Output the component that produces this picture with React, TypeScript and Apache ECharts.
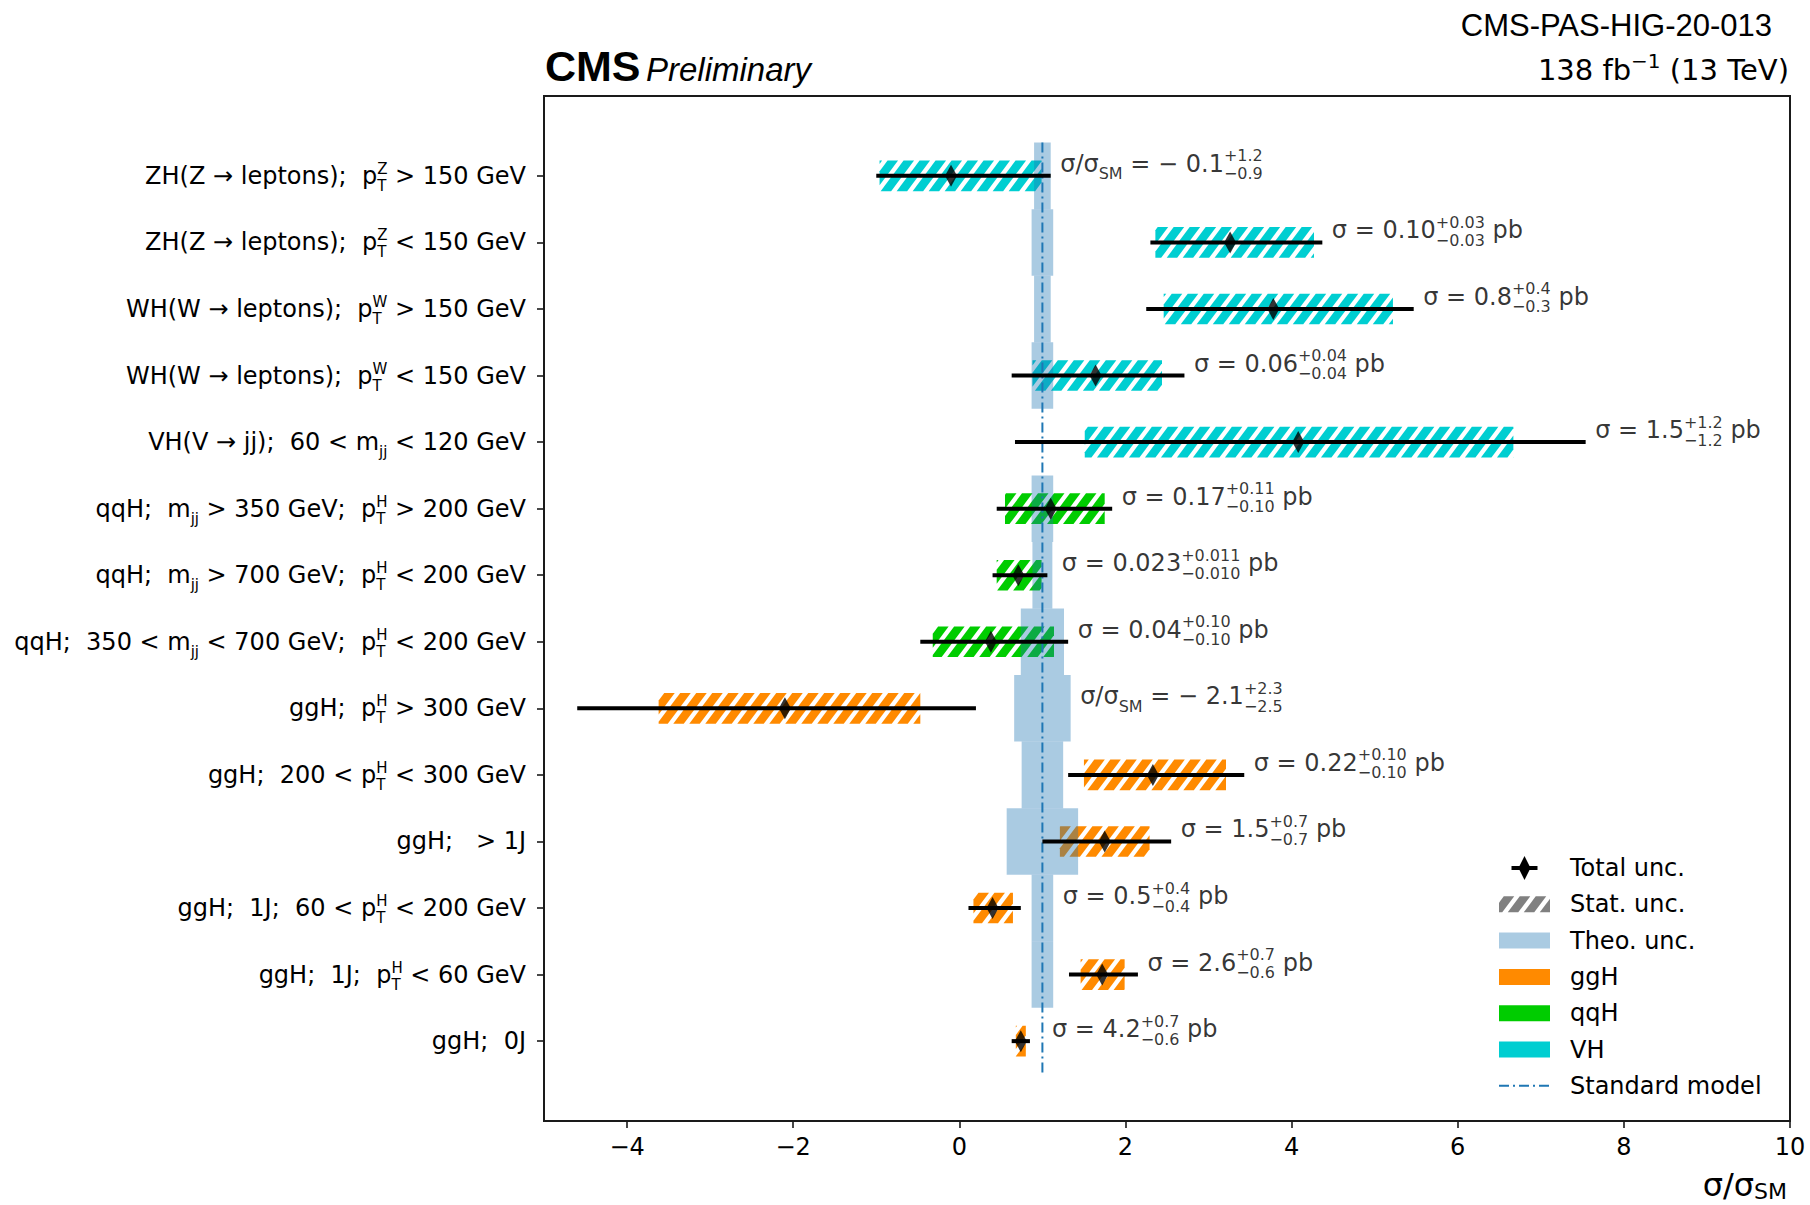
import React, { useEffect, useRef } from 'react';
import * as echarts from 'echarts';

// ---------------------------------------------------------------------------
// Data: one row per STXS bin, top to bottom
// ---------------------------------------------------------------------------
const categories = [
  'ZH(Z → leptons);  p_{T}^{Z} > 150 GeV',
  'ZH(Z → leptons);  p_{T}^{Z} < 150 GeV',
  'WH(W → leptons);  p_{T}^{W} > 150 GeV',
  'WH(W → leptons);  p_{T}^{W} < 150 GeV',
  'VH(V → jj);  60 < m_{jj} < 120 GeV',
  'qqH;  m_{jj} > 350 GeV;  p_{T}^{H} > 200 GeV',
  'qqH;  m_{jj} > 700 GeV;  p_{T}^{H} < 200 GeV',
  'qqH;  350 < m_{jj} < 700 GeV;  p_{T}^{H} < 200 GeV',
  'ggH;  p_{T}^{H} > 300 GeV',
  'ggH;  200 < p_{T}^{H} < 300 GeV',
  'ggH;   > 1J',
  'ggH;  1J;  60 < p_{T}^{H} < 200 GeV',
  'ggH;  1J;  p_{T}^{H} < 60 GeV',
  'ggH;  0J',
];

const rowMode = ['VH', 'VH', 'VH', 'VH', 'VH', 'qqH', 'qqH', 'qqH', 'ggH', 'ggH', 'ggH', 'ggH', 'ggH', 'ggH'];

// best-fit signal strength sigma/sigma_SM
const muValues = [-0.1, 3.26, 3.78, 1.64, 4.08, 1.1, 0.71, 0.38, -2.1, 2.33, 1.75, 0.4, 1.72, 0.74];
// total uncertainty interval
const totalLow = [-1.0, 2.3, 2.25, 0.63, 0.67, 0.45, 0.4, -0.47, -4.6, 1.31, 1.0, 0.11, 1.32, 0.63];
const totalHigh = [1.1, 4.37, 5.47, 2.71, 7.54, 1.84, 1.06, 1.31, 0.2, 3.43, 2.55, 0.74, 2.15, 0.85];
// statistical uncertainty interval
const statLow = [-0.96, 2.36, 2.46, 0.88, 1.51, 0.55, 0.45, -0.32, -3.62, 1.5, 1.21, 0.17, 1.46, 0.68];
const statHigh = [0.99, 4.27, 5.22, 2.44, 6.67, 1.75, 0.99, 1.14, -0.47, 3.21, 2.29, 0.645, 1.99, 0.8];
// half width of the theory band around the SM expectation
const theoHalfWidth = [0.1, 0.13, 0.1, 0.13, 0, 0.13, 0.12, 0.26, 0.34, 0.25, 0.43, 0.13, 0.13, 0];

// measured cross sections in pb (null: quoted as sigma/sigma_SM)
const xsecCentral = [null, '0.10', '0.8', '0.06', '1.5', '0.17', '0.023', '0.04', null, '0.22', '1.5', '0.5', '2.6', '4.2'];
const xsecUp = [null, '0.03', '0.4', '0.04', '1.2', '0.11', '0.011', '0.10', null, '0.10', '0.7', '0.4', '0.7', '0.7'];
const xsecDown = [null, '0.03', '0.3', '0.04', '1.2', '0.10', '0.010', '0.10', null, '0.10', '0.7', '0.4', '0.6', '0.6'];

const productionModes = ['ggH', 'qqH', 'VH'];
const modeColors = ['#ff8a00', '#00cc00', '#00ced1'];
const smValue = 1;
const xTicks = [-4, -2, 0, 2, 4, 6, 8, 10];
const legendLabels = ['Total unc.', 'Stat. unc.', 'Theo. unc.', 'ggH', 'qqH', 'VH', 'Standard model'];

// ---------------------------------------------------------------------------
// Layout and style
// ---------------------------------------------------------------------------
const W = 1810;
const H = 1205;
const FONT = 'DejaVu Sans';
const AXIS_COLOR = '#1a1a1a';
const THEO_FILL = 'rgba(31,119,180,0.38)';
const SM_COLOR = '#1f77b4';
const SM_DASH = [10, 4, 2, 4];
const BOX_HALF = 0.23; // half height of a stat box, in row units
const HATCH_PERIOD = 16;
const HATCH_GAP = 5.5;
const HATCH_SLANT = 0.75;

const rows = categories.map((_, i) => i);

// Sutherland-Hodgman clip of a polygon against g(p) >= 0
function clipHalf(poly: number[][], g: (p: number[]) => number): number[][] {
  const out: number[][] = [];
  for (let i = 0; i < poly.length; i++) {
    const a = poly[i];
    const b = poly[(i + 1) % poly.length];
    const ga = g(a);
    const gb = g(b);
    if (ga >= 0) out.push(a);
    if ((ga >= 0) !== (gb >= 0)) {
      const t = ga / (ga - gb);
      out.push([a[0] + t * (b[0] - a[0]), a[1] + t * (b[1] - a[1])]);
    }
  }
  return out;
}

// "///" hatch stripes filling a pixel rectangle
function hatchPolygons(x0: number, y0: number, x1: number, y1: number): number[][][] {
  const rect = [[x0, y0], [x1, y0], [x1, y1], [x0, y1]];
  const f = (p: number[]) => p[0] + HATCH_SLANT * p[1];
  const vals = rect.map(f);
  const fmin = Math.min(...vals);
  const fmax = Math.max(...vals);
  const out: number[][][] = [];
  for (let k = Math.floor(fmin / HATCH_PERIOD); k * HATCH_PERIOD <= fmax; k++) {
    const c1 = k * HATCH_PERIOD;
    const c2 = c1 + HATCH_PERIOD - HATCH_GAP;
    let poly = clipHalf(rect, (p) => f(p) - c1);
    if (poly.length < 3) continue;
    poly = clipHalf(poly, (p) => c2 - f(p));
    if (poly.length >= 3) out.push(poly);
  }
  return out;
}

let measureCtx: CanvasRenderingContext2D | null = null;
function textWidth(s: string): number {
  if (!measureCtx) measureCtx = document.createElement('canvas').getContext('2d');
  if (!measureCtx) return s.length;
  measureCtx.font = `20px "${FONT}"`;
  return measureCtx.measureText(s).width;
}

// stacked scripts: the narrower one gets zero advance so both share one column
function stacked(sup: string, sub: string): string {
  return textWidth(sup) >= textWidth(sub) ? `{sub0|${sub}}{sup|${sup}}` : `{sup0|${sup}}{sub|${sub}}`;
}

// tiny markup: _{a}^{b} / ^{a}_{b} stacked scripts, _{a} subscript, ^{a} superscript
function toRich(src: string): string {
  const re = /_\{([^}]*)\}\^\{([^}]*)\}|\^\{([^}]*)\}_\{([^}]*)\}|_\{([^}]*)\}|\^\{([^}]*)\}/g;
  let out = '';
  let last = 0;
  let m: RegExpExecArray | null;
  while ((m = re.exec(src))) {
    if (m.index > last) out += `{t|${src.slice(last, m.index)}}`;
    if (m[1] !== undefined) out += stacked(m[2], m[1]);
    else if (m[3] !== undefined) out += stacked(m[3], m[4]);
    else if (m[5] !== undefined) out += `{sub|${m[5]}}`;
    else out += `{sup|${m[6]}}`;
    last = re.lastIndex;
  }
  if (last < src.length) out += `{t|${src.slice(last)}}`;
  return out;
}

function richStyles(size: number, scriptSize: number, rise: number, drop: number, family = FONT) {
  const base = { fontFamily: family, color: '#000', fill: '#000', align: 'left' };
  const up = { ...base, fontSize: scriptSize, padding: [0, 0, 2 * rise, 0] };
  const down = { ...base, fontSize: scriptSize, padding: [2 * drop, 0, 0, 0] };
  return {
    t: { ...base, fontSize: size },
    sup: up,
    sup0: { ...up, width: 0 },
    sub: down,
    sub0: { ...down, width: 0 },
  };
}

function fmtSigned(v: number): string {
  return v < 0 ? `− ${Math.abs(v).toFixed(1)}` : v.toFixed(1);
}

const annotations = rows.map((i) => {
  const mu = muValues[i];
  if (xsecCentral[i] == null) {
    const up = (totalHigh[i] - mu).toFixed(1);
    const dn = (mu - totalLow[i]).toFixed(1);
    return `σ/σ_{SM} = ${fmtSigned(mu)}^{+${up}}_{−${dn}}`;
  }
  return `σ = ${xsecCentral[i]}^{+${xsecUp[i]}}_{−${xsecDown[i]}} pb`;
});

function buildLegend(): any[] {
  const top = 868;
  const step = 36.3;
  const iconL = 1499;
  const iconR = 1550;
  const textX = 1570;
  const els: any[] = [];
  legendLabels.forEach((label, k) => {
    const cy = top + k * step;
    if (label === 'Total unc.') {
      const cx = (iconL + iconR) / 2;
      els.push({ type: 'line', shape: { x1: cx - 13, y1: cy, x2: cx + 13, y2: cy }, style: { stroke: '#000', lineWidth: 4 } });
      els.push({
        type: 'polygon',
        shape: { points: [[cx, cy - 12], [cx + 6, cy], [cx, cy + 12], [cx - 6, cy]] },
        style: { fill: '#000' },
      });
    } else if (label === 'Stat. unc.') {
      hatchPolygons(iconL, cy - 8, iconR, cy + 8).forEach((pts) =>
        els.push({ type: 'polygon', shape: { points: pts }, style: { fill: '#808080' } })
      );
    } else if (label === 'Theo. unc.') {
      els.push({ type: 'rect', shape: { x: iconL, y: cy - 8, width: iconR - iconL, height: 16 }, style: { fill: THEO_FILL } });
    } else if (label === 'Standard model') {
      els.push({
        type: 'line',
        shape: { x1: iconL, y1: cy, x2: iconR, y2: cy },
        style: { stroke: SM_COLOR, lineWidth: 2, lineDash: SM_DASH },
      });
    } else {
      const color = modeColors[productionModes.indexOf(label)];
      els.push({ type: 'rect', shape: { x: iconL, y: cy - 8, width: iconR - iconL, height: 16 }, style: { fill: color } });
    }
    els.push({
      type: 'text',
      x: textX,
      y: cy,
      style: {
        text: label,
        fontFamily: FONT,
        fontSize: 24,
        fill: '#000',
        align: 'left',
        verticalAlign: 'middle',
        textAlign: 'left',
        textVerticalAlign: 'middle',
      },
    });
  });
  return els;
}

function buildOption(): any {
  const axisLine = { color: AXIS_COLOR, width: 2 };
  const tickLine = { color: AXIS_COLOR, width: 1.6 };
  return {
    animation: false,
    backgroundColor: '#ffffff',
    textStyle: { fontFamily: FONT },
    grid: {
      left: 544,
      top: 96,
      right: 20,
      bottom: 84,
      show: true,
      borderColor: AXIS_COLOR,
      borderWidth: 2,
      backgroundColor: 'transparent',
    },
    xAxis: {
      type: 'value',
      min: -5,
      max: 10,
      axisLine: { show: true, onZero: false, lineStyle: axisLine },
      axisTick: { show: true, customValues: xTicks, length: 7, lineStyle: tickLine },
      axisLabel: {
        customValues: xTicks,
        margin: 14,
        fontSize: 24,
        fontFamily: FONT,
        color: '#000',
        formatter: (v: number) => (v < 0 ? `−${Math.abs(v)}` : `${v}`),
      },
      splitLine: { show: false },
    },
    yAxis: {
      type: 'value',
      inverse: true,
      min: -1.2,
      max: 14.2,
      axisLine: { show: true, onZero: false, lineStyle: axisLine },
      axisTick: { show: true, customValues: rows, length: 7, lineStyle: tickLine },
      axisLabel: {
        customValues: rows,
        margin: 18,
        fontSize: 24,
        fontFamily: FONT,
        color: '#000',
        formatter: (v: number) => toRich(categories[Math.round(v)] ?? ''),
        rich: richStyles(24, 15, 7, 10),
      },
      splitLine: { show: false },
    },
    graphic: [
      {
        type: 'text',
        x: 545,
        y: 66,
        style: {
          text: 'CMS',
          fontFamily: 'Liberation Sans',
          fontWeight: 'bold',
          fontSize: 43,
          fill: '#000',
          align: 'left',
          verticalAlign: 'middle',
          textAlign: 'left',
          textVerticalAlign: 'middle',
        },
      },
      {
        type: 'text',
        x: 646,
        y: 69.5,
        style: {
          text: 'Preliminary',
          fontFamily: 'Liberation Sans',
          fontStyle: 'italic',
          fontSize: 33,
          fill: '#000',
          align: 'left',
          verticalAlign: 'middle',
          textAlign: 'left',
          textVerticalAlign: 'middle',
        },
      },
      {
        type: 'text',
        x: 1772,
        y: 25,
        style: {
          text: 'CMS-PAS-HIG-20-013',
          fontFamily: 'Liberation Sans',
          fontSize: 31,
          fill: '#000',
          align: 'right',
          verticalAlign: 'middle',
          textAlign: 'right',
          textVerticalAlign: 'middle',
        },
      },
      {
        type: 'text',
        x: 1789,
        y: 70,
        style: {
          text: toRich('138 fb^{−1} (13 TeV)'),
          rich: richStyles(29, 20, 9, 7),
          fill: '#000',
          align: 'right',
          verticalAlign: 'middle',
          textAlign: 'right',
          textVerticalAlign: 'middle',
        },
      },
      {
        type: 'text',
        x: 1787,
        y: 1185,
        style: {
          text: toRich('σ/σ_{SM}'),
          rich: richStyles(32, 22, 5, 6),
          fill: '#000',
          align: 'right',
          verticalAlign: 'middle',
          textAlign: 'right',
          textVerticalAlign: 'middle',
        },
      },
      ...buildLegend(),
    ],
    series: [
      {
        // statistical uncertainty: hatched boxes
        name: 'Stat. unc.',
        type: 'custom',
        z: 2,
        silent: true,
        encode: { x: [0, 1], y: 2 },
        data: rows.map((i) => [statLow[i], statHigh[i], i, productionModes.indexOf(rowMode[i])]),
        renderItem: (_p: any, api: any) => {
          const a = api.coord([api.value(0), api.value(2) - BOX_HALF]);
          const b = api.coord([api.value(1), api.value(2) + BOX_HALF]);
          const color = modeColors[api.value(3)];
          const polys = hatchPolygons(
            Math.min(a[0], b[0]),
            Math.min(a[1], b[1]),
            Math.max(a[0], b[0]),
            Math.max(a[1], b[1])
          );
          return {
            type: 'group',
            children: polys.map((pts) => ({ type: 'polygon', shape: { points: pts }, style: { fill: color } })),
          };
        },
      },
      {
        // theory uncertainty on the SM prediction
        name: 'Theo. unc.',
        type: 'custom',
        z: 3,
        silent: true,
        encode: { x: [0, 1], y: 2 },
        data: rows
          .filter((i) => theoHalfWidth[i] > 0)
          .map((i) => [smValue - theoHalfWidth[i], smValue + theoHalfWidth[i], i]),
        renderItem: (_p: any, api: any) => {
          const a = api.coord([api.value(0), api.value(2) - 0.5]);
          const b = api.coord([api.value(1), api.value(2) + 0.5]);
          return {
            type: 'rect',
            shape: {
              x: Math.min(a[0], b[0]),
              y: Math.min(a[1], b[1]),
              width: Math.abs(b[0] - a[0]),
              height: Math.abs(b[1] - a[1]),
            },
            style: { fill: THEO_FILL },
          };
        },
      },
      {
        name: 'Standard model',
        type: 'line',
        z: 4,
        silent: true,
        symbol: 'none',
        data: [
          [smValue, -0.5],
          [smValue, rows.length - 0.5],
        ],
        lineStyle: { color: SM_COLOR, width: 2, type: SM_DASH },
      },
      {
        // total uncertainty bars
        name: 'Total unc.',
        type: 'custom',
        z: 5,
        silent: true,
        encode: { x: [0, 1], y: 2 },
        data: rows.map((i) => [totalLow[i], totalHigh[i], i]),
        renderItem: (_p: any, api: any) => {
          const a = api.coord([api.value(0), api.value(2)]);
          const b = api.coord([api.value(1), api.value(2)]);
          return {
            type: 'line',
            shape: { x1: a[0], y1: a[1], x2: b[0], y2: b[1] },
            style: { stroke: '#000', lineWidth: 4 },
          };
        },
      },
      {
        name: 'Best fit',
        type: 'scatter',
        z: 6,
        silent: true,
        symbol: 'diamond',
        symbolSize: [12, 22],
        itemStyle: { color: '#000' },
        data: rows.map((i) => [muValues[i], i]),
      },
      {
        // value annotations
        name: 'Annotations',
        type: 'scatter',
        z: 7,
        silent: true,
        symbolSize: 1,
        itemStyle: { color: 'rgba(0,0,0,0)' },
        data: rows.map((i) => [Math.max(totalHigh[i], smValue + theoHalfWidth[i]), i]),
        label: {
          show: true,
          position: 'right',
          distance: 9,
          offset: [0, -12],
          formatter: (p: any) => toRich(annotations[p.dataIndex]),
          rich: richStyles(24, 16, 8, 10),
        },
      },
    ],
  };
}

export default function App() {
  const ref = useRef<HTMLDivElement>(null);
  useEffect(() => {
    document.body.style.margin = '0';
    if (!ref.current) return undefined;
    const chart = echarts.init(ref.current, null, { renderer: 'svg', width: W, height: H });
    chart.setOption(buildOption());
    return () => chart.dispose();
  }, []);
  return <div ref={ref} style={{ width: W, height: H, background: '#fff' }} />;
}
